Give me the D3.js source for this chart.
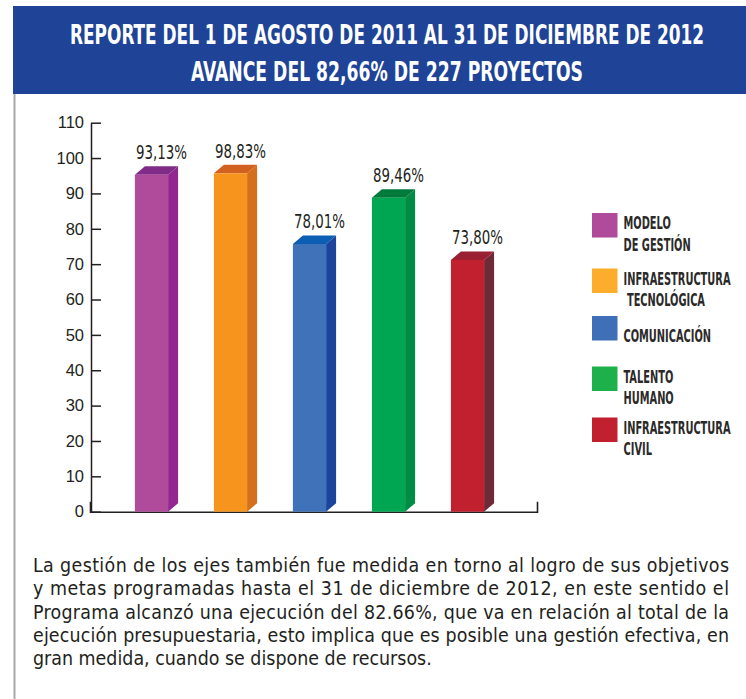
<!DOCTYPE html>
<html>
<head>
<meta charset="utf-8">
<script src="https://cdn.jsdelivr.net/npm/d3@7"></script>
<style>
  body { margin: 0; background: #fff; }
  svg { display: block; }
  text { fill: #231f20; }
</style>
</head>
<body>
<script>
// data
var categories = ["MODELO DE GESTIÓN", "INFRAESTRUCTURA TECNOLÓGICA", "COMUNICACIÓN",
  "TALENTO HUMANO", "INFRAESTRUCTURA CIVIL"];
var legendLines = [["MODELO", "DE GESTIÓN"], ["INFRAESTRUCTURA", " TECNOLÓGICA"], ["COMUNICACIÓN"],
  ["TALENTO", "HUMANO"], ["INFRAESTRUCTURA", "CIVIL"]];
var percents = [93.13, 98.83, 78.01, 89.46, 73.80];
// bar heights as drawn in the picture (they don't follow the labels exactly)
var heights = [95.3, 95.7, 75.7, 88.8, 71.2];
var yTicks = [0, 10, 20, 30, 40, 50, 60, 70, 80, 90, 100, 110];
var titleLines = ["REPORTE DEL 1 DE AGOSTO DE 2011 AL 31 DE DICIEMBRE DE 2012",
  "AVANCE DEL 82,66% DE 227 PROYECTOS"];
var paragraph = [
  "La gestión de los ejes también fue medida en torno al logro de sus objetivos",
  "y metas programadas hasta el 31 de diciembre de 2012, en este sentido el",
  "Programa alcanzó una ejecución del 82.66%, que va en relación al total de la",
  "ejecución presupuestaria, esto implica que es posible una gestión efectiva, en",
  "gran medida, cuando se dispone de recursos."
];

var frontColors = ["#b04a9b", "#f7941d", "#3f72b8", "#00a651", "#c1202f"];
var topColors = ["#7f2b87", "#d2601f", "#0b5eb3", "#007a3b", "#9b1f32"];
var sideColors = ["#93278f", "#d4701c", "#1b459c", "#008c44", "#6e2a36"];
var legendColors = ["#b04a9b", "#fbad2b", "#3f6fb6", "#1eb14b", "#c1202f"];

var narrow = "'DejaVu Sans Condensed', 'Liberation Sans Narrow', 'Liberation Sans', sans-serif";

// squeeze a group of texts by one factor, so the widest one is `widest` px
var squeezeTo = function(sel, widest) {
  var max = 0;
  sel.each(function() {
    max = Math.max(max, this.getComputedTextLength());
  });
  var k = widest / max;
  sel.each(function() {
    var tw = this.getComputedTextLength();
    if (tw > 0) {
      d3.select(this)
        .attr("textLength", tw * k)
        .attr("lengthAdjust", "spacingAndGlyphs");
    }
  });
  return k;
};

var w = 746;
var h = 699;

var svg = d3.select("body")
  .append("svg")
  .attr("width", w)
  .attr("height", h);

// header box
svg.append("rect")
  .attr("x", 13)
  .attr("y", 6)
  .attr("width", w - 13)
  .attr("height", 88)
  .attr("fill", "#1e4397");

svg.selectAll("text.title")
  .data(titleLines)
  .enter()
  .append("text")
  .attr("class", "title")
  .attr("x", 387)
  .attr("y", function(d, i) { return 44 + i * 36.5; })
  .attr("text-anchor", "middle")
  .style("fill", "#fff")
  .style("font-family", narrow)
  .style("font-weight", "bold")
  .style("font-size", "26px")
  .attr("textLength", function(d, i) { return i === 0 ? 634 : 392; })
  .attr("lengthAdjust", "spacingAndGlyphs")
  .text(function(d) { return d; });

// left frame line
svg.append("line")
  .attr("x1", 14.5).attr("x2", 14.5)
  .attr("y1", 94).attr("y2", h)
  .attr("stroke", "#a7a9ac")
  .attr("stroke-width", 2);

// scales
var y = d3.scaleLinear()
  .domain([0, 110])
  .range([511.7, 122.7]);

var x = d3.scaleBand()
  .domain(categories)
  .range([112, 507])
  .paddingInner(0.58)
  .paddingOuter(0.29);

var dx = 10;
var dy = 8.5;
var base = y(0);

// axes
var yAxis = d3.axisLeft(y)
  .tickValues(yTicks)
  .tickSizeInner(-10)
  .tickSizeOuter(0)
  .tickPadding(7);

var gy = svg.append("g")
  .attr("transform", "translate(91,0)")
  .call(yAxis);
gy.selectAll("path, line").attr("stroke", "#231f20").attr("stroke-width", 1.5);
gy.selectAll("text")
  .style("font-family", "'Liberation Sans', sans-serif")
  .style("font-size", "16.5px")
  .style("fill", "#231f20");

var xAxis = d3.axisTop(d3.scaleLinear().range([90, 537]))
  .tickValues([])
  .tickSizeOuter(10);

var gx = svg.append("g")
  .attr("transform", "translate(0," + base + ")")
  .call(xAxis);
gx.select("path").attr("stroke", "#231f20").attr("stroke-width", 1.6);

// 3d bars
var bars = svg.selectAll("g.bar")
  .data(categories)
  .enter()
  .append("g")
  .attr("class", "bar");

bars.append("polygon")
  .attr("fill", function(d, i) { return sideColors[i]; })
  .attr("points", function(d, i) {
    var x1 = x(d) + x.bandwidth();
    var yt = y(heights[i]);
    return [[x1, yt], [x1 + dx, yt - dy], [x1 + dx, base - dy], [x1, base]].join(" ");
  });

bars.append("polygon")
  .attr("fill", function(d, i) { return topColors[i]; })
  .attr("points", function(d, i) {
    var x0 = x(d);
    var x1 = x0 + x.bandwidth();
    var yt = y(heights[i]);
    return [[x0, yt], [x0 + dx, yt - dy], [x1 + dx, yt - dy], [x1, yt]].join(" ");
  });

bars.append("rect")
  .attr("x", function(d) { return x(d); })
  .attr("y", function(d, i) { return y(heights[i]); })
  .attr("width", x.bandwidth())
  .attr("height", function(d, i) { return base - y(heights[i]); })
  .attr("fill", function(d, i) { return frontColors[i]; });

var valueLabels = bars.append("text")
  .attr("x", function(d) { return x(d) + x.bandwidth() / 2 + 10; })
  .attr("y", function(d, i) { return y(heights[i]) - 15.5; })
  .attr("text-anchor", "middle")
  .style("font-family", narrow)
  .style("font-size", "20px")
  .text(function(d, i) { return d3.format(".2f")(percents[i]).replace(".", ",") + "%"; });
squeezeTo(valueLabels, 51);

// legend
var legend = svg.selectAll("g.legend")
  .data(categories)
  .enter()
  .append("g")
  .attr("class", "legend")
  .attr("transform", function(d, i) {
    return "translate(592," + [213, 268.5, 316, 366.5, 417.5][i] + ")";
  });

legend.append("rect")
  .attr("width", 25.5)
  .attr("height", 24.5)
  .attr("fill", function(d, i) { return legendColors[i]; });

var legendText = legend.selectAll("text")
  .data(function(d, i) { return legendLines[i]; })
  .enter()
  .append("text")
  .attr("x", 31.5)
  .attr("y", function(d, j, nodes) {
    // single-line entries sit lower, near the swatch's bottom
    return (nodes.length === 1 ? 25.7 : 16) + j * 21.7;
  })
  .attr("xml:space", "preserve")
  .style("font-family", narrow)
  .style("font-size", "17px")
  .style("font-weight", "bold")
  .style("fill", "#2b2a29")
  .text(function(d) { return d; });
squeezeTo(legendText, 107);

// paragraph under the chart, squeezed sideways to the original's narrow type
// and justified to 696px (last line left as is)
var para = svg.append("g");
var paraLines = para.selectAll("text")
  .data(paragraph)
  .enter()
  .append("text")
  .attr("x", 33)
  .attr("y", function(d, i) { return 572 + i * 23.3; })
  .style("font-family", narrow)
  .style("font-size", "20px")
  .text(function(d) { return d; });
var lastW = paraLines.filter(function(d, i) { return i === paragraph.length - 1; })
  .node().getComputedTextLength();
var kp = 399 / lastW;
para.attr("transform", "scale(" + kp + ",1)");
paraLines
  .attr("x", 33 / kp)
  .attr("textLength", function(d, i) { return i < paragraph.length - 1 ? 696 / kp : null; })
  .attr("lengthAdjust", "spacing");
</script>
</body>
</html>
